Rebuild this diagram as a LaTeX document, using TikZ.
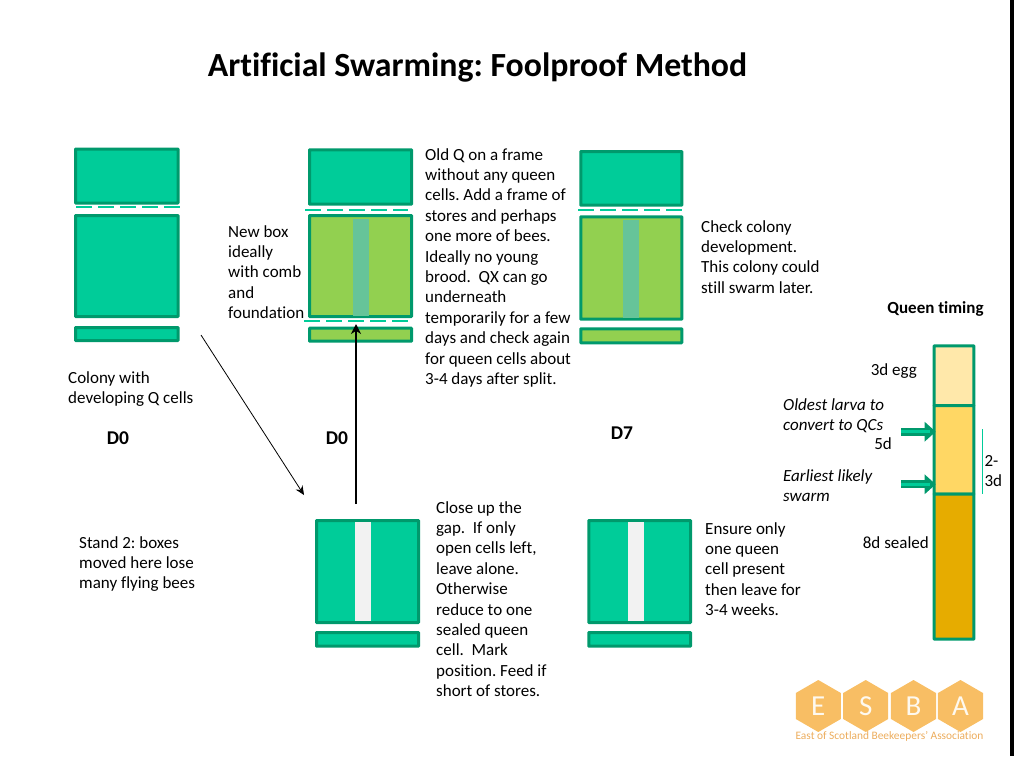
\documentclass[tikz,border=0pt]{standalone}
\usepackage{fontspec}
\setmainfont[Ligatures=NoCommon]{Carlito}
\usetikzlibrary{arrows.meta,shapes.geometric}
\definecolor{boxedge}{RGB}{0,153,108}
\definecolor{boxfill}{RGB}{0,204,153}
\definecolor{newfill}{RGB}{146,208,80}
\definecolor{framefill}{RGB}{102,196,153}
\definecolor{eggfill}{RGB}{255,232,170}
\definecolor{larvafill}{RGB}{255,215,100}
\definecolor{sealfill}{RGB}{230,172,0}
\definecolor{hexfill}{RGB}{248,190,100}
\definecolor{hextext}{RGB}{236,172,92}
\tikzset{
  hive/.style={draw=boxedge,line width=3pt,fill=boxfill,rounded corners=0.5pt},
  newhive/.style={hive,fill=newfill},
  comb/.style={fill=framefill},
  gap/.style={fill=black!5},
  excluder/.style={draw=boxfill,line width=2pt,dash pattern=on 16pt off 6pt},
  note/.style={font=\fontsize{17}{20.4}\selectfont,align=left,inner sep=0pt,anchor=north west},
  lean/.style={note,font=\fontsize{17}{20.4}\selectfont\itshape},
  head/.style={font=\fontsize{19.5}{20}\selectfont\bfseries,inner sep=0pt},
  greenarrow/.style={-{Triangle[length=11pt,width=19pt]},draw=boxedge,fill=boxedge,line width=8pt},
  greencore/.style={draw=boxfill,line width=3pt,shorten >=6pt},
  hex/.style={regular polygon,regular polygon sides=6,shape border rotate=30,fill=hexfill,minimum size=52pt,inner sep=0pt,text=white!90!hexfill,font=\fontsize{29}{29}\selectfont}
}
\begin{document}
\frenchspacing
\begin{tikzpicture}[x=1pt,y=-1pt]
  \useasboundingbox (0,0) rectangle (1014,756);
  \fill[black] (1009.5,0) rectangle (1014,756);
  \node[font=\fontsize{33.8}{36}\selectfont\bfseries,inner sep=0pt] (title) at (477.5,67) {Artificial Swarming: Foolproof Method};
  % colony on first stand
  \draw[hive] (75.5,149) rectangle (178,203);
  \draw[excluder] (76,207) -- (180,207);
  \draw[hive] (75.5,215.5) rectangle (178,316.5);
  \draw[hive] (75.5,327.5) rectangle (178,340.5);
  % new box
  \draw[hive] (309.5,149.8) rectangle (411.5,204.2);
  \draw[excluder] (305,210) -- (408,210);
  \draw[newhive] (309.5,215.5) rectangle (411.5,316.5);
  \fill[comb] (353,219) rectangle (369,316);
  \draw[excluder] (304,321) -- (408,321);
  \draw[newhive] (309.5,328.2) rectangle (411.5,341.2);
  % after seven days
  \draw[hive] (580.8,151.5) rectangle (681.8,205.2);
  \draw[excluder] (578,210) -- (682,210);
  \draw[newhive] (580.8,216.8) rectangle (681.8,319.2);
  \fill[comb] (623,220) rectangle (639,318);
  \draw[newhive] (580.8,328.8) rectangle (681.8,342.8);
  % stand 2
  \draw[hive] (316.5,520.5) rectangle (418.5,622.5);
  \fill[gap] (355,522) rectangle (371,620.5);
  \draw[hive] (316.5,632.5) rectangle (418.5,646.2);
  \draw[hive] (588.8,520.5) rectangle (690.5,622.5);
  \fill[gap] (628,522) rectangle (644,620.5);
  \draw[hive] (588.8,632.5) rectangle (690.5,646.2);
  % moves
  \coordinate (moveA) at (201,335);
  \coordinate (moveB) at (304,495);
  \coordinate (moveC) at (356,504);
  \coordinate (moveD) at (356,324);
  \draw[-{Stealth[length=9pt,width=8pt]},line width=0.8pt] (moveA) -- (moveB);
  \draw[-{Stealth[length=10pt,width=10pt]},line width=1.7pt] (moveC) -- (moveD);
  % labels
  \node[note] (colony) at (68,371) {Colony with\\developing Q cells};
  \node[head] (dzeroA) at (118,438) {D0};
  \node[head] (dzeroB) at (337,438) {D0};
  \node[head] (dseven) at (622,433) {D7};
  \node[note] (standtwo) at (79,536) {Stand 2: boxes\\moved here lose\\many flying bees};
  \node[note] (newbox) at (228,225) {New box\\ideally\\with comb\\and\\foundation};
  \node[note] (oldq) at (425,148) {Old Q on a frame\\without any queen\\cells. Add a frame of\\stores and perhaps\\one more of bees.\\Ideally no young\\brood.\ \ QX can go\\underneath\\temporarily for a few\\days and check again\\for queen cells about\\3-4 days after split.};
  \node[note] (check) at (701,220) {Check colony\\development.\\This colony could\\still swarm later.};
  \node[note] (closeup) at (436,501) {Close up the\\gap.\ \ If only\\open cells left,\\leave alone.\\Otherwise\\reduce to one\\sealed queen\\cell.\ \ Mark\\position. Feed if\\short of stores.};
  \node[note] (ensure) at (705,522) {Ensure only\\one queen\\cell present\\then leave for\\3-4 weeks.};
  % queen timing
  \node[font=\fontsize{17}{18}\selectfont\bfseries,inner sep=0pt] (timing) at (935.5,309) {Queen timing};
  \draw[hive,fill=eggfill] (934.2,345.8) rectangle (973.8,405.7);
  \draw[hive,fill=larvafill] (934.2,405.7) rectangle (973.8,494);
  \draw[hive,fill=sealfill] (934.2,494) rectangle (973.8,639.2);
  \node[note,anchor=east] (egg) at (917,371) {3d egg};
  \node[note,anchor=east] (five) at (892,444) {5d};
  \node[note,anchor=east] (sealed) at (929,543) {8d sealed};
  \node[lean] (oldest) at (783,398) {Oldest larva to\\convert to QCs};
  \node[lean] (earliest) at (783,469) {Earliest likely\\swarm};
  \coordinate (oldestA) at (901,431.7);
  \coordinate (oldestB) at (935.7,431.7);
  \coordinate (earliestA) at (901,484.3);
  \coordinate (earliestB) at (935.7,484.3);
  \draw[greenarrow] (oldestA) -- (oldestB);
  \draw[greencore] (oldestA) -- (oldestB);
  \draw[greenarrow] (earliestA) -- (earliestB);
  \draw[greencore] (earliestA) -- (earliestB);
  \coordinate (spanA) at (982.3,429.3);
  \coordinate (spanB) at (982.3,494);
  \draw[boxfill,line width=0.8pt] (spanA) -- (spanB);
  \node[note,font=\fontsize{17}{20}\selectfont] (span) at (984.3,455) {2-\\3d};
  % logo
  \foreach \x/\y in {818.3/E,865.7/S,913.5/B,960.5/A}
    \node[hex] (hex\y) at (\x,706) {\y};
  \node[font=\fontsize{11.4}{12}\selectfont,text=hextext,inner sep=0pt] (esba) at (889.5,736.5) {East of Scotland Beekeepers' Association};
\end{tikzpicture}
\end{document}
